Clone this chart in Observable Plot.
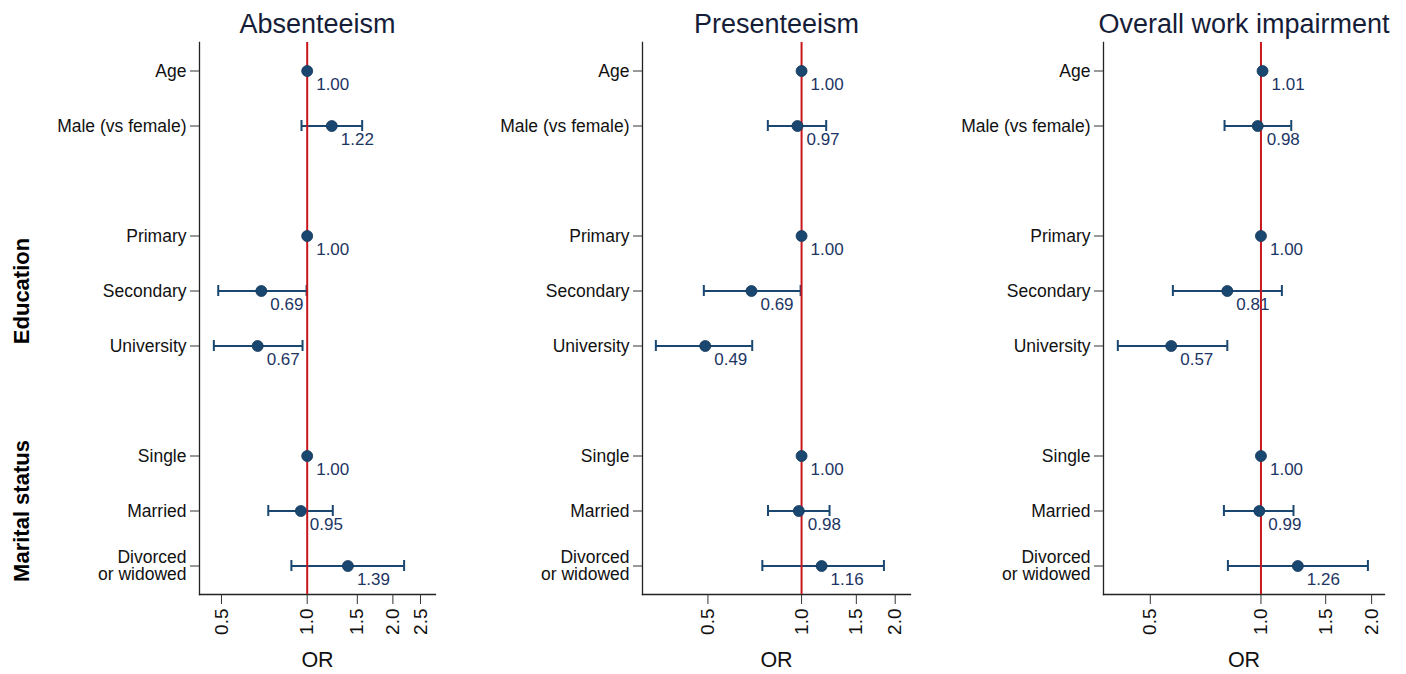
<!DOCTYPE html>
<html>
<head>
<meta charset="utf-8">
<script src="https://cdn.jsdelivr.net/npm/d3@7"></script>
<script src="https://cdn.jsdelivr.net/npm/@observablehq/plot@0.6"></script>
<style>
  html, body { margin: 0; padding: 0; background: #fff; }
  #chart { position: relative; width: 1406px; height: 674px; font-family: "Liberation Sans", Arial, sans-serif; }
  #chart > div { position: absolute; top: 0; }
</style>
</head>
<body>
<div id="chart"></div>
<script>
// ---- data ----
const rowLabels = ["Age", "Male (vs female)", "Primary", "Secondary", "University", "Single", "Married", "Divorced\nor widowed"];
const groupLabels = ["Education", "Marital status"];
const groupRows = ["Secondary", "Married"];
const panelTitles = ["Absenteeism", "Presenteeism", "Overall work impairment"];

const absOR = [1.00, 1.22, 1.00, 0.69, 0.67, 1.00, 0.95, 1.39];
const absLo = [null, 0.955, null, 0.487, 0.470, null, 0.730, 0.880];
const absHi = [null, 1.56, null, 0.995, 0.963, null, 1.23, 2.19];

const preOR = [1.00, 0.97, 1.00, 0.69, 0.49, 1.00, 0.98, 1.16];
const preLo = [null, 0.779, null, 0.485, 0.340, null, 0.780, 0.748];
const preHi = [null, 1.20, null, 0.993, 0.694, null, 1.23, 1.84];

const owiOR = [1.01, 0.98, 1.00, 0.81, 0.57, 1.00, 0.99, 1.26];
const owiLo = [null, 0.796, null, 0.576, 0.408, null, 0.793, 0.813];
const owiHi = [null, 1.209, null, 1.14, 0.81, null, 1.226, 1.954];

const xTicks1 = [0.5, 1.0, 1.5, 2.0, 2.5];
const xTicks23 = [0.5, 1.0, 1.5, 2.0];
const axisTitle = "OR";

// ---- layout ----
const yDomain = [...rowLabels.slice(0, 2), "gap1", ...rowLabels.slice(2, 5), "gap2", ...rowLabels.slice(5)];
const panels = [
  {title: panelTitles[0], or: absOR, lo: absLo, hi: absHi, ticks: xTicks1, domain: [0.4185, 2.823], left: 0, width: 460, ml: 199, mr: 25, groups: true},
  {title: panelTitles[1], or: preOR, lo: preLo, hi: preHi, ticks: xTicks23, domain: [0.308, 2.24], left: 460, width: 470, ml: 182, mr: 20, groups: false},
  {title: panelTitles[2], or: owiOR, lo: owiLo, hi: owiHi, ticks: xTicks23, domain: [0.373, 2.168], left: 930, width: 476, ml: 173, mr: 22, groups: false}
];

const navy = "#1a476f";
const labelNavy = "#1c3563";
const red = "#c8161d";
const fmt2 = d3.format(".2f");
const fmt1 = d3.format(".1f");

const chart = document.getElementById("chart");

for (const p of panels) {
  const data = rowLabels.map((row, i) => ({row, or: p.or[i], lo: p.lo[i], hi: p.hi[i]}));
  const ci = data.filter(d => d.lo != null && d.hi != null);
  const groups = groupLabels.map((g, i) => ({group: g, row: groupRows[i]}));

  const marks = [
    Plot.frame({anchor: "left", stroke: "#222", strokeWidth: 1.3}),
    Plot.frame({anchor: "bottom", stroke: "#222", strokeWidth: 1.3}),
    Plot.axisY({ticks: rowLabels, tickSize: 9, tickPadding: 4, fontSize: 17.5, stroke: "#333", fill: "#111", label: null}),
    Plot.axisX({ticks: p.ticks, tickFormat: fmt1, tickRotate: -90, tickSize: 10, tickPadding: 4, fontSize: 19, stroke: "#333", fill: "#111", label: null}),
    Plot.text([axisTitle], {frameAnchor: "bottom", dy: 72, lineAnchor: "bottom", fontSize: 21.5, fill: "#111"}),
    Plot.text([p.title], {frameAnchor: "top", dy: -10, lineAnchor: "bottom", fontSize: 27, fill: "#161d38"}),
    Plot.ruleY(ci, {y: "row", x1: "lo", x2: "hi", stroke: navy, strokeWidth: 2}),
    Plot.tickX(ci, {x: "lo", y: "row", insetTop: 22, insetBottom: 22, stroke: navy, strokeWidth: 2}),
    Plot.tickX(ci, {x: "hi", y: "row", insetTop: 22, insetBottom: 22, stroke: navy, strokeWidth: 2}),
    Plot.ruleX([1], {stroke: red, strokeWidth: 2}),
    Plot.dot(data, {x: "or", y: "row", r: 5.5, fill: navy, stroke: "#14375a", strokeWidth: 0.8}),
    Plot.text(data, {x: "or", y: "row", text: d => fmt2(d.or), textAnchor: "start", dx: 9, dy: 14, fontSize: 17, fill: labelNavy})
  ];
  if (p.groups) {
    marks.push(Plot.text(groups, {y: "row", text: "group", frameAnchor: "left", dx: -178, rotate: -90, textAnchor: "middle", fontSize: 22, fontWeight: "bold", fill: "#000"}));
  }

  const svg = Plot.plot({
    width: p.width,
    height: 674,
    marginLeft: p.ml,
    marginRight: p.mr,
    marginTop: 42,
    marginBottom: 80,
    style: {fontFamily: "'Liberation Sans', Arial, sans-serif", background: "transparent", overflow: "visible", color: "#111"},
    x: {type: "log", domain: p.domain, axis: null},
    y: {type: "band", domain: yDomain, padding: 0, axis: null},
    marks
  });
  const wrap = document.createElement("div");
  wrap.style.left = p.left + "px";
  wrap.appendChild(svg);
  chart.appendChild(wrap);
}
</script>
</body>
</html>
